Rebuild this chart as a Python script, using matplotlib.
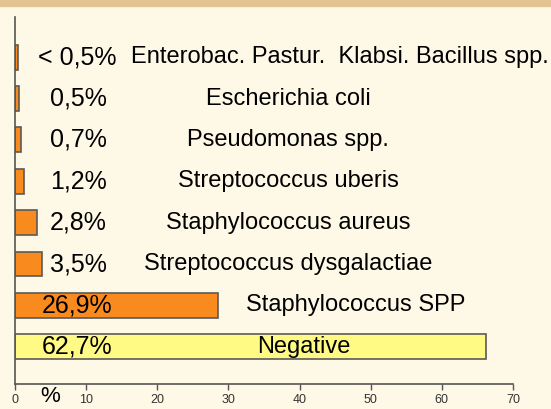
import matplotlib.pyplot as plt
import matplotlib.patches as mpatches

# data (top row first)
names = ['Enterobac. Pastur.  Klabsi. Bacillus spp.', 'Escherichia coli',
         'Pseudomonas spp.', 'Streptococcus uberis', 'Staphylococcus aureus',
         'Streptococcus dysgalactiae', 'Staphylococcus SPP', 'Negative']
pct_labels = ['< 0,5%', '0,5%', '0,7%', '1,2%', '2,8%', '3,5%', '26,9%', '62,7%']
bar_len = [0.46, 0.6, 0.8, 1.3, 3.05, 3.75, 28.5, 66.2]
xticks = [0, 10, 20, 30, 40, 50, 60, 70]

# layout / style
pct_x = [3.2, 4.9, 4.9, 4.9, 4.9, 4.9, 3.8, 3.8]
name_x = [45.7, 38.4, 38.4, 38.4, 38.4, 38.4, 47.9, 40.6]
colors = ['#F98A1E'] * 7 + ['#FFFA84']
bg = '#FEF8E6'

plt.rcParams['font.family'] = ['Liberation Sans', 'DejaVu Sans']

fig = plt.figure(figsize=(5.51, 4.09), dpi=100, facecolor=bg)
# tan band on top
fig.patches.append(mpatches.Rectangle((0, 1 - 6 / 409), 1, 6 / 409,
                                      transform=fig.transFigure,
                                      color='#E2C391', zorder=0))

ax = fig.add_axes([15 / 551, 25 / 409, 498 / 551, 367 / 409])
ax.set_facecolor(bg)

rows = range(len(names))
ax.barh(rows, bar_len, height=0.6, color=colors, edgecolor='#5a5a5a',
        linewidth=1.2, zorder=2)

for i in rows:
    ax.text(pct_x[i], i, pct_labels[i], fontsize=18, va='center', ha='left',
            zorder=3)
    ax.text(name_x[i], i, names[i], fontsize=17, va='center', ha='center',
            zorder=3)

ax.set_xlim(0, 70)
ax.set_ylim(7.9, -0.97)
ax.set_yticks([])
ax.set_xticks(xticks)
ax.set_xticklabels([str(t) for t in xticks], fontsize=9, color='#333333')
ax.tick_params(axis='x', length=4, width=1, color='#555555', pad=3)
for s in ['top', 'right']:
    ax.spines[s].set_visible(False)
for s in ['left', 'bottom']:
    ax.spines[s].set_color('#555555')
    ax.spines[s].set_linewidth(1.2)

fig.text(50 / 551, 2 / 409, '%', fontsize=16, ha='center', va='bottom')

fig.savefig('out.png', dpi=100, facecolor=bg)
